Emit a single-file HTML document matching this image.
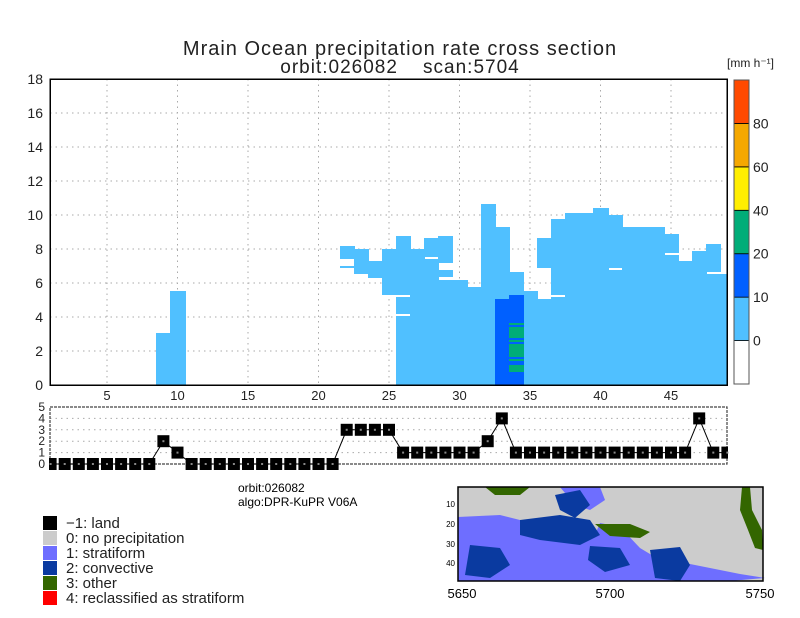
<!DOCTYPE html>
<html><head><meta charset="utf-8"><style>
body{margin:0;background:#fff;}
svg{display:block;font-family:"Liberation Sans",sans-serif;}
</style></head><body>
<svg id="chart" width="800" height="618" viewBox="0 0 800 618">
<rect width="800" height="618" fill="#fff"/>
<text x="400" y="55" font-size="20" text-anchor="middle" fill="#222" letter-spacing="1">Mrain Ocean precipitation rate cross section</text>
<text x="400" y="73" font-size="19" text-anchor="middle" fill="#222" letter-spacing="1" xml:space="preserve">orbit:026082    scan:5704</text>
<g id="main" shape-rendering="crispEdges"></g>
<g id="type"></g>
<g id="cbar"></g>
<text x="238" y="492" font-size="12">orbit:026082</text>
<text x="238" y="506" font-size="12">algo:DPR-KuPR V06A</text>
<g id="legend"></g>
<g id="map">
  <rect x="458" y="487" width="305" height="94" fill="#cccccc"/>
  <polygon points="458,517 500,515 520,520 560,522 600,540 640,560 680,566 700,575 700,581 458,581" fill="#6e6eff"/>
  <polygon points="600,523 620,527 640,548 660,560 680,562 700,566 720,570 740,574 765,578 730,581 600,581 580,570" fill="#6e6eff"/>
  <polygon points="560,487 600,487 605,500 590,510 575,505" fill="#6e6eff"/>
  <polygon points="520,520 560,515 590,520 600,535 580,545 540,540 520,535" fill="#0a3aa0"/>
  <polygon points="470,545 500,548 510,565 490,578 465,575" fill="#0a3aa0"/>
  <polygon points="555,495 580,490 590,505 575,518 560,510" fill="#0a3aa0"/>
  <polygon points="650,550 680,547 690,565 680,581 655,578" fill="#0a3aa0"/>
  <polygon points="590,546 620,548 630,565 605,572 588,560" fill="#0a3aa0"/>
  <polygon points="595,524 630,524 650,532 640,538 610,536" fill="#336600"/>
  <polygon points="742,487 750,487 752,510 762,530 763,550 755,548 748,530 740,510" fill="#336600"/>
  <polygon points="485,487 530,487 520,495 495,495" fill="#336600"/>
  <rect x="458" y="487" width="305" height="94" fill="none" stroke="#000" stroke-width="1.5"/>
  <text x="455" y="507" font-size="8" text-anchor="end">10</text>
  <text x="455" y="527" font-size="8" text-anchor="end">20</text>
  <text x="455" y="547" font-size="8" text-anchor="end">30</text>
  <text x="455" y="566" font-size="8" text-anchor="end">40</text>
  <text x="462" y="598" font-size="13" text-anchor="middle">5650</text>
  <text x="610" y="598" font-size="13" text-anchor="middle">5700</text>
  <text x="760" y="598" font-size="13" text-anchor="middle">5750</text>
</g>
</svg>
<script>
const NS="http://www.w3.org/2000/svg";
// stratiform (light blue) segments: column, bottom km, top km
const segCol=[9,10,22,22,23,24,25,26,26,26,27,28,28,29,29,29,30,31,32,33,34,35,36,36,37,37,38,39,40,41,41,42,43,44,45,45,46,47,48,48,49];
const segBot=[0,0,7.41,6.9,6.53,6.29,5.29,5.27,4.17,0,0,0,7.53,0,6.33,7.2,0,0,0,5.06,5.29,0,0,6.88,0,5.27,0,0,0,0,6.88,0,0,0,0,7.76,0,0,0,6.65,0];
const segTop=[3.06,5.53,8.18,7.0,7.98,7.29,7.98,8.76,5.17,4.08,7.98,7.41,8.63,6.18,6.76,8.76,6.18,5.76,10.65,9.29,6.65,5.53,5.08,8.63,5.17,9.76,10.12,10.12,10.41,6.76,10.0,9.29,9.29,9.29,7.65,8.88,7.29,7.88,6.53,8.29,6.53];
// convective (10-20 mm/h) segments
const convCol=[33,34];
const convBot=[0,0];
const convTop=[5.06,5.29];
// heavy (20-40 mm/h) segments
const hvyCol=[34,34,34,34,34,34];
const hvyBot=[3.55,2.78,2.51,1.65,1.41,0.76];
const hvyTop=[3.65,3.41,2.63,2.41,1.51,1.18];
const yTicks=[0,2,4,6,8,10,12,14,16,18];
const xTicks=[5,10,15,20,25,30,35,40,45];
// rain type per column (1..49)
const typeVals=[0,0,0,0,0,0,0,0,2,1,0,0,0,0,0,0,0,0,0,0,0,3,3,3,3,1,1,1,1,1,1,2,4,1,1,1,1,1,1,1,1,1,1,1,1,1,4,1,1];
const typeTicks=[0,1,2,3,4,5];
const cbColors=["#ffffff","#50c0ff","#0060ff","#00ad78","#ffee00","#f5a800","#ff4a00"];
const cbLabels=["0","10","20","40","60","80"];
const legColors=["#000000","#cccccc","#6e6eff","#0a3aa0","#336600","#ff0000"];
const legLabels=["\u22121: land","0: no precipitation","1: stratiform","2: convective","3: other","4: reclassified as stratiform"];

const X0=50,X1=727,Y0=79,Y1=385;
const xs=c=>36.5+14.1*c;
const ys=v=>Y1-(v/18)*(Y1-Y0);
const TY0=407,TY1=464;
const ty=v=>TY1-v*(TY1-TY0)/5;
function mk(tag,attrs,parent){const e=document.createElementNS(NS,tag);for(const k in attrs)e.setAttribute(k,attrs[k]);parent.appendChild(e);return e;}
const main=document.getElementById('main');
yTicks.forEach(v=>{if(v>0&&v<18){const l=mk('line',{x1:X0,x2:X1,y1:ys(v),y2:ys(v),stroke:'#aaa','stroke-dasharray':'1.5,4'},main);

}
const t=mk('text',{x:43,y:ys(v)+5,'font-size':14,'text-anchor':'end',fill:'#222'},main);t.textContent=v;

});
xTicks.forEach(v=>{const l=mk('line',{x1:xs(v),x2:xs(v),y1:Y0,y2:Y1,stroke:'#aaa','stroke-dasharray':'1.5,4'},main);


const t=mk('text',{x:xs(v),y:400,'font-size':13,'text-anchor':'middle',fill:'#222'},main);t.textContent=v;

});
function drawSegs(cols,bots,tops,color,name){cols.forEach((c,i)=>{const xl=Math.round(Math.max(X0,xs(c-0.5))),xr=Math.round(Math.min(X1,xs(c+0.5)));
const yt=Math.round(ys(tops[i])),yb=Math.round(ys(bots[i]));
const r=mk('rect',{x:xl,y:yt,width:xr-xl+1,height:yb-yt,fill:color},main);

});}
drawSegs(segCol,segBot,segTop,'#50c0ff','stratiform-rain-segment');
drawSegs(convCol,convBot,convTop,'#0060ff','moderate-rain-segment');
drawSegs(hvyCol,hvyBot,hvyTop,'#00ad78','heavy-rain-segment');
const fr=mk('rect',{x:X0,y:Y0,width:X1-X0,height:Y1-Y0,fill:'none',stroke:'#000','stroke-width':1.5},main);



const tp=document.getElementById('type');
typeTicks.forEach(v=>{if(v>0&&v<5){const l=mk('line',{x1:X0,x2:X1,y1:ty(v),y2:ty(v),stroke:'#aaa','stroke-dasharray':'1.5,4'},tp);

}
const t=mk('text',{x:45,y:ty(v)+4,'font-size':12,'text-anchor':'end',fill:'#222'},tp);t.textContent=v;

});
const tf=mk('rect',{x:X0,y:TY0,width:X1-X0,height:TY1-TY0,fill:'none',stroke:'#444','stroke-width':1.2,'stroke-dasharray':'3,1'},tp);


const pts=typeVals.map((v,i)=>xs(i+1)+','+ty(v)).join(' ');
const pl=mk('polyline',{points:pts,fill:'none',stroke:'#000','stroke-width':1},tp);


typeVals.forEach((v,i)=>{const cx=xs(i+1);const xl=Math.max(X0-1,cx-6),xr=Math.min(X1+1,cx+6);
const r=mk('rect',{x:xl,y:ty(v)-6,width:xr-xl,height:12,fill:'#000'},tp);


const d=mk('rect',{x:cx-1,y:ty(v)-1,width:2,height:2,fill:'#888'},tp);

});

const cb=document.getElementById('cbar');
const CBX=734,CBW=15,CBT=80,CBB=384,bh=(CBB-CBT)/7;
cbColors.forEach((c,i)=>{const r=mk('rect',{x:CBX,y:CBB-(i+1)*bh,width:CBW,height:bh,fill:c,stroke:'#000','stroke-width':0.8},cb);

});
const cbo=mk('rect',{x:CBX,y:CBT,width:CBW,height:CBB-CBT,fill:'none',stroke:'#555','stroke-width':1},cb);


cbLabels.forEach((s,i)=>{const t=mk('text',{x:753,y:CBB-(i+1)*bh+5,'font-size':14,fill:'#222'},cb);t.textContent=s;

});
const un=mk('text',{x:727,y:67,'font-size':12,fill:'#222'},cb);un.textContent='[mm h\u207B\u00B9]';



const lg=document.getElementById('legend');
legLabels.forEach((s,i)=>{const y=516+i*15;
const r=mk('rect',{x:43,y:y,width:14,height:14,fill:legColors[i]},lg);


const t=mk('text',{x:66,y:y+12,'font-size':15,fill:'#222'},lg);t.textContent=s;

});
</script>
</body></html>
